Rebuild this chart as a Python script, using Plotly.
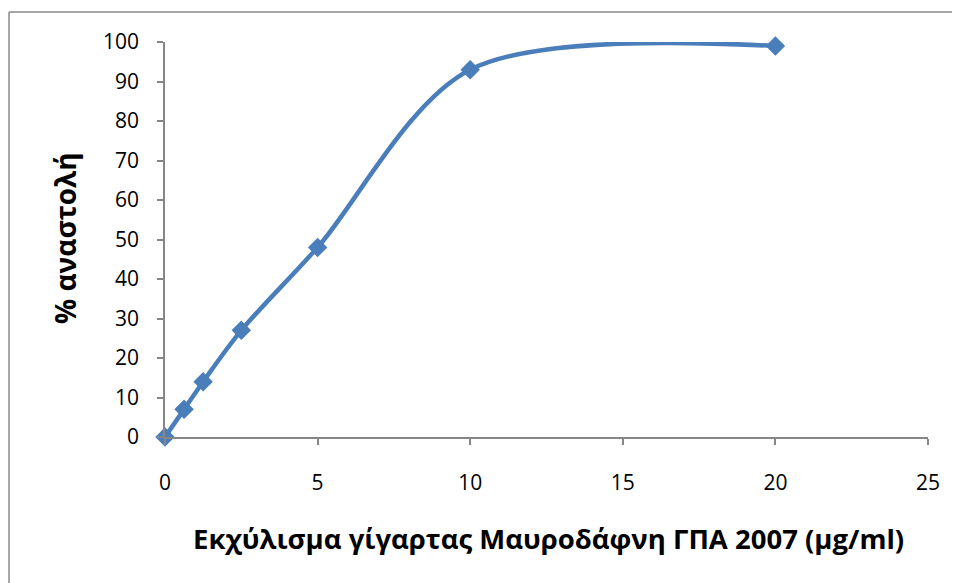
import plotly.graph_objects as go

concentration = [0, 0.625, 1.25, 2.5, 5, 10, 20]
inhibition = [0, 7, 14, 27, 48, 93, 99]
x_ticks = [0, 5, 10, 15, 20, 25]
y_ticks = [0, 10, 20, 30, 40, 50, 60, 70, 80, 90, 100]

x_title = "Εκχύλισμα γίγαρτας Μαυροδάφνη ΓΠΑ 2007 (μg/ml)"
y_title = "% αναστολή"

# figure sized so the page (with the browser's 8px body margin) does not overflow the window
W, H = 952, 575
L, R, T, B = 157, 32, 34, 146
pw, ph = W - L - R, H - T - B

fig = go.Figure()
fig.add_trace(go.Scatter(
    x=concentration, y=inhibition, mode="lines+markers",
    line=dict(color="#4A7EBB", width=4.5, shape="spline", smoothing=0.9),
    marker=dict(symbol="diamond", size=15, color="#4A7EBB"),
    showlegend=False, cliponaxis=False,
))

axis_font = dict(family="Open Sans", size=21, color="#000000")
fig.update_layout(
    width=W, height=H,
    margin=dict(l=L, r=R, t=T, b=B),
    paper_bgcolor="white", plot_bgcolor="white",
    font=axis_font,
    xaxis=dict(
        range=[0, 25], tickvals=x_ticks, ticktext=[str(v) for v in x_ticks],
        showgrid=False, zeroline=False, showline=True, linecolor="#868686", linewidth=1.5,
        ticks="outside", ticklen=6, tickcolor="#868686", tickwidth=1.5,
        tickfont=axis_font, automargin=False, ticklabelstandoff=20,
    ),
    yaxis=dict(
        range=[0, 100], tickvals=y_ticks, ticktext=[str(v) for v in y_ticks],
        showgrid=False, zeroline=False, showline=True, linecolor="#868686", linewidth=1.5,
        ticks="outside", ticklen=6, tickcolor="#868686", tickwidth=1.5,
        tickfont=axis_font, automargin=False, ticklabelstandoff=14,
    ),
)

fig.add_annotation(
    text="<b>" + x_title + "</b>", xref="paper", yref="paper",
    x=(540 - L) / pw, y=(T + ph - 530) / ph, xanchor="center", yanchor="middle",
    showarrow=False, font=dict(family="Open Sans", size=27.5, color="#000000"),
)
fig.add_annotation(
    text="<b>" + y_title + "</b>", xref="paper", yref="paper",
    x=(57 - L) / pw, y=(T + ph - 230) / ph, xanchor="center", yanchor="middle",
    textangle=-90, showarrow=False, font=dict(family="Open Sans", size=28, color="#000000"),
)

# outer chart border: only the left and top edges are inside the picture
bx0 = (1 - L) / pw
by1 = (ph + T - 4) / ph
fig.add_shape(type="line", xref="paper", yref="paper",
              x0=bx0, x1=bx0, y0=-(H - T - ph) / ph, y1=by1,
              line=dict(color="#A6A6A6", width=2), layer="below")
fig.add_shape(type="line", xref="paper", yref="paper",
              x0=bx0, x1=(W - L) / pw, y0=by1, y1=by1,
              line=dict(color="#A6A6A6", width=2), layer="below")

fig.write_html("out.html")
